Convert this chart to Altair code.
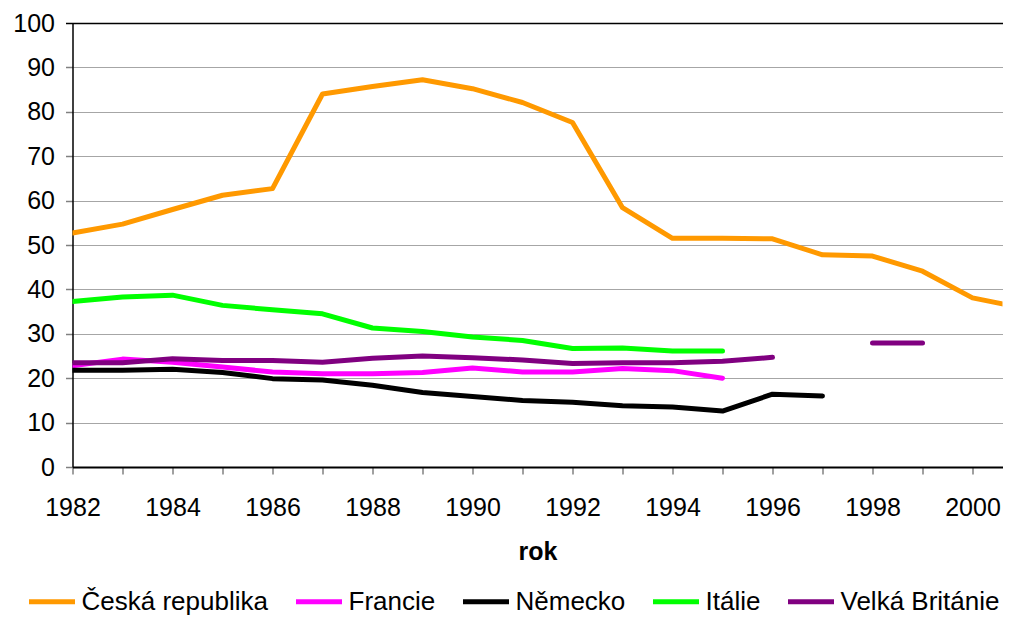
import altair as alt
import pandas as pd

years = list(range(1982, 2002))
ceska_republika = [52.7, 54.7, 58.0, 61.2, 62.7, 84.0, 85.7, 87.2, 85.2, 82.1,
                   77.6, 58.4, 51.5, 51.5, 51.4, 47.8, 47.5, 44.1, 38.1, 35.8]
francie = [22.8, 24.3, 23.6, 22.5, 21.4, 21.0, 21.0, 21.3, 22.3, 21.4,
           21.4, 22.2, 21.7, 20.0, None, None, None, None, None, None]
nemecko = [21.8, 21.8, 22.0, 21.3, 19.9, 19.6, 18.4, 16.8, 15.9, 15.0,
           14.6, 13.8, 13.5, 12.6, 16.4, 16.0, None, None, None, None]
italie = [37.3, 38.3, 38.7, 36.4, 35.4, 34.5, 31.3, 30.5, 29.3, 28.5,
          26.7, 26.8, 26.1, 26.1, None, None, None, None, None, None]
velka_britanie = [23.5, 23.5, 24.4, 24.0, 24.0, 23.6, 24.5, 25.0, 24.6, 24.1,
                  23.3, 23.5, 23.5, 23.8, 24.7, None, 27.9, 27.9, None, None]

series_names = ["Česká republika", "Francie", "Německo", "Itálie", "Velká Británie"]
series_values = [ceska_republika, francie, nemecko, italie, velka_britanie]
series_colors = ["#FF9900", "#FF00FF", "#000000", "#00FF00", "#800080"]
y_ticks = list(range(0, 101, 10))

rows = []
for name, vals in zip(series_names, series_values):
    seg = 0
    prev_valid = False
    for yr, v in zip(years, vals):
        if v is None:
            if prev_valid:
                seg += 1
            prev_valid = False
            continue
        rows.append({"rok": yr, "hodnota": v, "zeme": name, "usek": f"{name}-{seg}"})
        prev_valid = True
df = pd.DataFrame(rows)

FONT = "Liberation Sans"

chart = alt.Chart(df).mark_line(
    strokeWidth=5, strokeCap="round", strokeJoin="round", clip=True
).encode(
    x=alt.X(
        "rok:Q",
        scale=alt.Scale(domain=[1982, 2000.6], nice=False, zero=False),
        axis=alt.Axis(
            title="rok",
            values=years,
            format="d",
            labelExpr="datum.value % 2 == 0 ? datum.label : ''",
            grid=False,
            domainColor="#000000",
            domainWidth=2,
            tickColor="#808080",
            tickWidth=1.5,
            tickSize=7,
            labelPadding=21,
            labelFont=FONT,
            labelFontSize=25,
            labelColor="#000000",
            labelFlush=False,
            labelOverlap=False,
            titleFont=FONT,
            titleFontSize=25,
            titleFontWeight="bold",
            titleColor="#000000",
            titleBaseline="alphabetic",
            titleY=92,
        ),
    ),
    y=alt.Y(
        "hodnota:Q",
        scale=alt.Scale(domain=[0, 100], nice=False, zero=True),
        axis=alt.Axis(
            title=None,
            values=y_ticks,
            format="d",
            grid=True,
            gridColor={"condition": {"test": "datum.value === 100", "value": "#000000"}, "value": "#a6a6a6"},
            gridWidth={"condition": {"test": "datum.value === 100", "value": 1.5}, "value": 1},
            domainColor="#000000",
            domainWidth=1.5,
            tickColor={"condition": {"test": "datum.value === 100", "value": "#000000"}, "value": "#808080"},
            tickWidth=1.5,
            tickSize=7,
            labelPadding=11,
            labelFont=FONT,
            labelFontSize=25,
            labelColor="#000000",
            labelFlush=False,
            labelOverlap=False,
        ),
    ),
    color=alt.Color(
        "zeme:N",
        scale=alt.Scale(domain=series_names, range=series_colors),
        legend=alt.Legend(
            title=None,
            orient="none",
            legendX=-46,
            legendY=553,
            direction="horizontal",
            columns=5,
            symbolType="stroke",
            symbolSize=2116,
            symbolStrokeWidth=5,
            labelFont=FONT,
            labelFontSize=26,
            labelColor="#000000",
            labelOffset=4,
            labelLimit=0,
            columnPadding=17,
            padding=0,
        ),
    ),
    detail="usek:N",
).properties(
    width=930,
    height=444,
    autosize=alt.AutoSizeParams(type="none"),
    padding={"left": 64.5, "top": 15, "right": 0.5, "bottom": 150},
    background="#ffffff",
).configure_view(stroke=None)

chart.save("out.html", embed_options={"renderer": "svg", "actions": False})
